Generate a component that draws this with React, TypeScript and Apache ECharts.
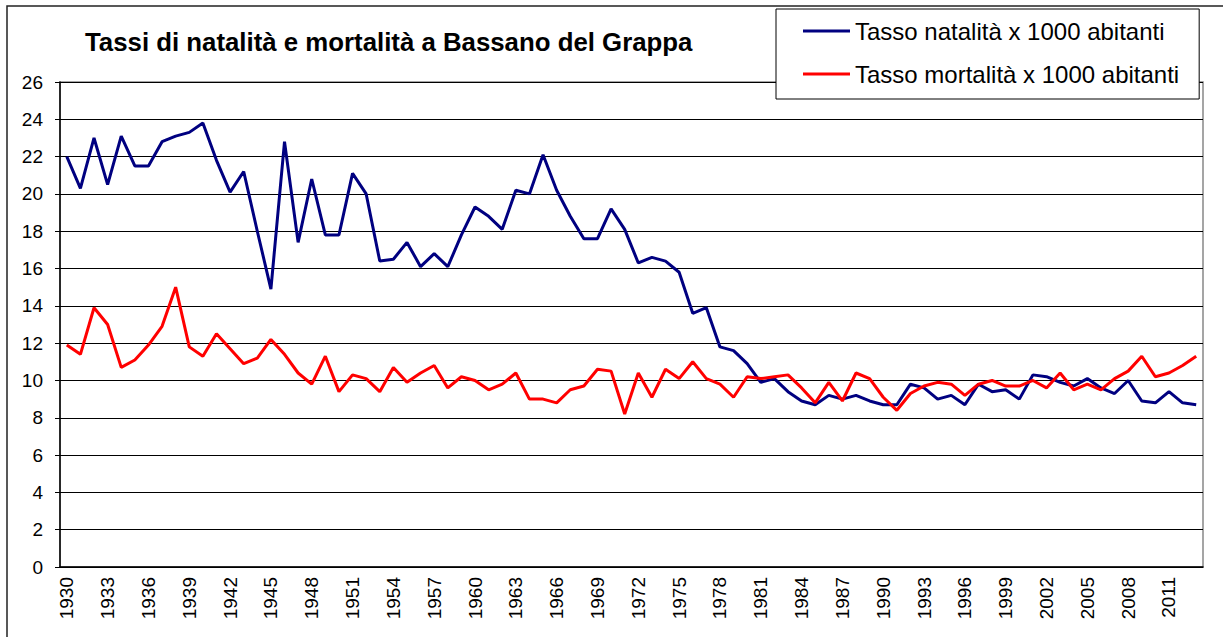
import React, { useEffect, useRef } from "react";
import * as echarts from "echarts";

const years: string[] = [];
for (let y = 1930; y <= 2013; y++) years.push(String(y));

const natalita = [
  22.0, 20.3, 23.0, 20.5, 23.1, 21.5, 21.5, 22.8, 23.1, 23.3,
  23.8, 21.8, 20.1, 21.2, 18.0, 14.9, 22.8, 17.4, 20.8, 17.8,
  17.8, 21.1, 20.0, 16.4, 16.5, 17.4, 16.1, 16.8, 16.1, 17.8,
  19.3, 18.8, 18.1, 20.2, 20.0, 22.1, 20.2, 18.8, 17.6, 17.6,
  19.2, 18.1, 16.3, 16.6, 16.4, 15.8, 13.6, 13.9, 11.8, 11.6,
  10.9, 9.9, 10.1, 9.4, 8.9, 8.7, 9.2, 9.0, 9.2, 8.9,
  8.7, 8.7, 9.8, 9.6, 9.0, 9.2, 8.7, 9.8, 9.4, 9.5,
  9.0, 10.3, 10.2, 9.9, 9.7, 10.1, 9.6, 9.3, 10.0, 8.9,
  8.8, 9.4, 8.8, 8.7,
];

const mortalita = [
  11.9, 11.4, 13.9, 13.0, 10.7, 11.1, 11.9, 12.9, 15.0, 11.8,
  11.3, 12.5, 11.7, 10.9, 11.2, 12.2, 11.4, 10.4, 9.8, 11.3,
  9.4, 10.3, 10.1, 9.4, 10.7, 9.9, 10.4, 10.8, 9.6, 10.2,
  10.0, 9.5, 9.8, 10.4, 9.0, 9.0, 8.8, 9.5, 9.7, 10.6,
  10.5, 8.2, 10.4, 9.1, 10.6, 10.1, 11.0, 10.1, 9.8, 9.1,
  10.2, 10.1, 10.2, 10.3, 9.6, 8.8, 9.9, 8.9, 10.4, 10.1,
  9.1, 8.4, 9.3, 9.7, 9.9, 9.8, 9.2, 9.8, 10.0, 9.7,
  9.7, 10.0, 9.6, 10.4, 9.5, 9.8, 9.5, 10.1, 10.5, 11.3,
  10.2, 10.4, 10.8, 11.3,
];

const titleText = "Tassi di natalità e mortalità a Bassano del Grappa";
const seriesNames = ["Tasso natalità x 1000 abitanti", "Tasso mortalità x 1000 abitanti"];

const FONT = "'Liberation Sans', Arial, sans-serif";

export default function App() {
  const ref = useRef<HTMLDivElement>(null);
  useEffect(() => {
    document.body.style.margin = "0";
    const chart = echarts.init(ref.current!, null, { renderer: "svg" });
    chart.setOption({
      animation: false,
      backgroundColor: "#fff",
      textStyle: { fontFamily: FONT },
      title: {
        text: titleText,
        left: 85,
        top: 29,
        padding: 0,
        textStyle: { fontFamily: FONT, fontWeight: "bold", fontSize: 25.8, color: "#000", lineHeight: 26 },
      },
      legend: {
        orient: "vertical",
        left: 776,
        top: 9,
        padding: [10, 20, 13, 27],
        itemGap: 19,
        itemWidth: 47,
        itemHeight: 3,
        icon: "rect",
        backgroundColor: "#fff",
        borderColor: "#000",
        borderWidth: 1,
        borderRadius: 0,
        textStyle: { fontFamily: FONT, fontSize: 24, color: "#000", lineHeight: 24, height: 24 },
        data: seriesNames.map((n) => ({ name: n, icon: "rect" })),
      },
      graphic: [
        {
          type: "rect",
          silent: true,
          z: -10,
          shape: { x: 7, y: 6, width: 1240, height: 700 },
          style: { fill: "none", stroke: "#222", lineWidth: 1.5 },
        },
      ],
      grid: {
        left: 60,
        right: 20,
        top: 82,
        bottom: 70,
        show: true,
        borderColor: "#888",
        borderWidth: 1.5,
        containLabel: false,
      },
      xAxis: {
        type: "category",
        data: years,
        boundaryGap: true,
        axisLine: { lineStyle: { color: "#000", width: 1.5 } },
        axisTick: { interval: 0, length: 6, lineStyle: { color: "#000" } },
        axisLabel: {
          interval: 2,
          rotate: 90,
          margin: 10,
          fontFamily: FONT,
          fontSize: 19,
          color: "#000",
        },
        splitLine: { show: false },
      },
      yAxis: {
        type: "value",
        min: 0,
        max: 26,
        interval: 2,
        axisLine: { show: true, lineStyle: { color: "#000", width: 1.5 } },
        axisTick: { show: true, length: 5, lineStyle: { color: "#000" } },
        axisLabel: { fontFamily: FONT, fontSize: 19, color: "#000", margin: 17 },
        splitLine: { lineStyle: { color: "#000", width: 1 } },
      },
      series: [
        {
          name: seriesNames[0],
          type: "line",
          data: natalita,
          symbol: "none",
          color: "#000080",
          lineStyle: { color: "#000080", width: 3 },
        },
        {
          name: seriesNames[1],
          type: "line",
          data: mortalita,
          symbol: "none",
          color: "#ff0000",
          lineStyle: { color: "#ff0000", width: 3 },
        },
      ],
    });
    return () => chart.dispose();
  }, []);
  return <div ref={ref} style={{ width: 1223, height: 637 }} />;
}
